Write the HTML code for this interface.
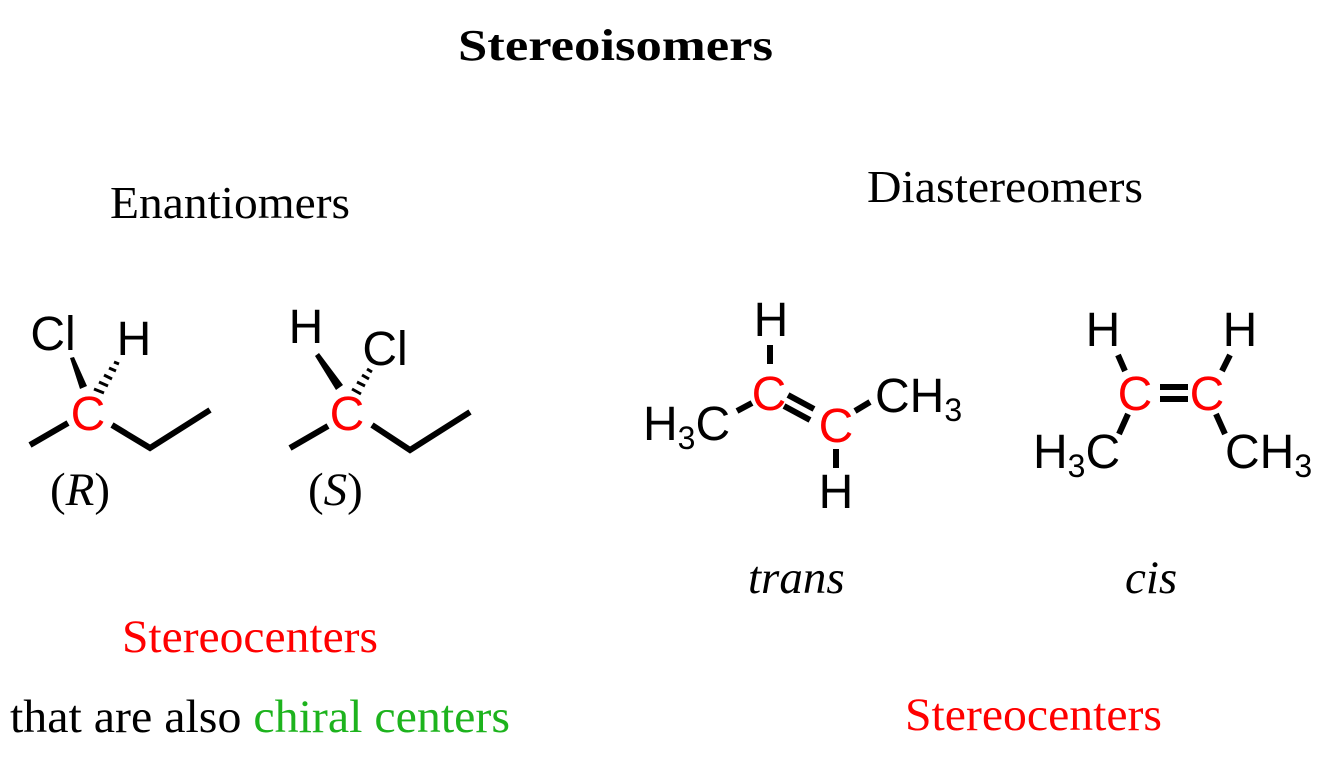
<!DOCTYPE html>
<html><head><meta charset="utf-8"><style>
html,body{margin:0;padding:0;background:#fff;}
svg{display:block}
.s{font-family:"Liberation Serif",serif;}
.a{font-family:"Liberation Sans",sans-serif;font-size:48px;}
</style></head><body>
<svg width="1325" height="768" viewBox="0 0 1325 768" xmlns="http://www.w3.org/2000/svg">
<text class="s" x="458" y="60" font-size="44" font-weight="bold" textLength="315" lengthAdjust="spacingAndGlyphs">Stereoisomers</text>
<text class="s" x="110" y="218" font-size="46" textLength="240" lengthAdjust="spacingAndGlyphs">Enantiomers</text>
<text class="s" x="867" y="202" font-size="46" textLength="276" lengthAdjust="spacingAndGlyphs">Diastereomers</text>

<g stroke="#000" stroke-width="6" fill="none" stroke-linecap="butt">
<polyline points="30,445 68,423"/>
<polyline points="112,425 150,448 210,410"/>
<polyline points="290,448 328,426"/>
<polyline points="372,425 410,450 470,412"/>
<line x1="770" y1="345" x2="770" y2="364"/>
<line x1="737" y1="411" x2="752" y2="403"/>
<line x1="788" y1="395" x2="814" y2="409"/>
<line x1="784" y1="406" x2="810" y2="420"/>
<line x1="855" y1="411" x2="870" y2="402"/>
<line x1="836" y1="449" x2="836" y2="468"/>
<line x1="1118" y1="355" x2="1125" y2="371"/>
<line x1="1230" y1="355" x2="1222" y2="371"/>
<line x1="1160" y1="387" x2="1188" y2="387"/>
<line x1="1160" y1="399" x2="1188" y2="399"/>
<line x1="1128" y1="414" x2="1119" y2="434"/>
<line x1="1216" y1="414" x2="1225" y2="434"/>
</g>
<polygon points="70,358 74,357 87,386 80,389" fill="#000"/>
<polygon points="315,356 319,353 343,385 336,390" fill="#000"/>
<g stroke="#000" stroke-width="3">
<line x1="94" y1="389" x2="104" y2="393"/>
<line x1="99" y1="382" x2="108" y2="386"/>
<line x1="104" y1="375" x2="112" y2="379"/>
<line x1="109" y1="368" x2="116" y2="371"/>
<line x1="114" y1="362" x2="119" y2="364"/>
<line x1="352" y1="389" x2="361" y2="394"/>
<line x1="357" y1="382" x2="365" y2="386"/>
<line x1="362" y1="375" x2="369" y2="379"/>
<line x1="367" y1="369" x2="372" y2="372"/>
</g>

<g class="a" text-anchor="middle">
<text x="53" y="350">Cl</text>
<text x="134" y="355">H</text>
<text x="88" y="430" fill="#f00">C</text>
<text x="306" y="343">H</text>
<text x="385" y="365">Cl</text>
<text x="347" y="430" fill="#f00">C</text>
<text x="771" y="336">H</text>
<text x="769" y="410" fill="#f00">C</text>
<text x="836" y="442" fill="#f00">C</text>
<text x="836" y="508">H</text>
<text x="1103" y="346">H</text>
<text x="1240" y="346">H</text>
<text x="1135" y="410" fill="#f00">C</text>
<text x="1207" y="410" fill="#f00">C</text>
</g>
<g class="a">
<text x="643" y="440">H<tspan font-size="32" dy="9">3</tspan><tspan dy="-9">C</tspan></text>
<text x="875" y="412">CH<tspan font-size="32" dy="9">3</tspan></text>
<text x="1033" y="468">H<tspan font-size="32" dy="9">3</tspan><tspan dy="-9">C</tspan></text>
<text x="1225" y="468">CH<tspan font-size="32" dy="9">3</tspan></text>
</g>

<text class="s" x="50" y="505" font-size="47">(<tspan font-style="italic">R</tspan>)</text>
<text class="s" x="308" y="505" font-size="47">(<tspan font-style="italic">S</tspan>)</text>
<text class="s" x="748" y="593" font-size="47" font-style="italic">trans</text>
<text class="s" x="1125" y="593" font-size="47" font-style="italic">cis</text>
<text class="s" x="122" y="652" font-size="47" fill="#f00" textLength="256" lengthAdjust="spacingAndGlyphs">Stereocenters</text>
<text class="s" x="10" y="732" font-size="47" textLength="500" lengthAdjust="spacingAndGlyphs">that are also <tspan fill="#1db31d">chiral centers</tspan></text>
<text class="s" x="905" y="730" font-size="47" fill="#f00" textLength="257" lengthAdjust="spacingAndGlyphs">Stereocenters</text>
</svg>
</body></html>
